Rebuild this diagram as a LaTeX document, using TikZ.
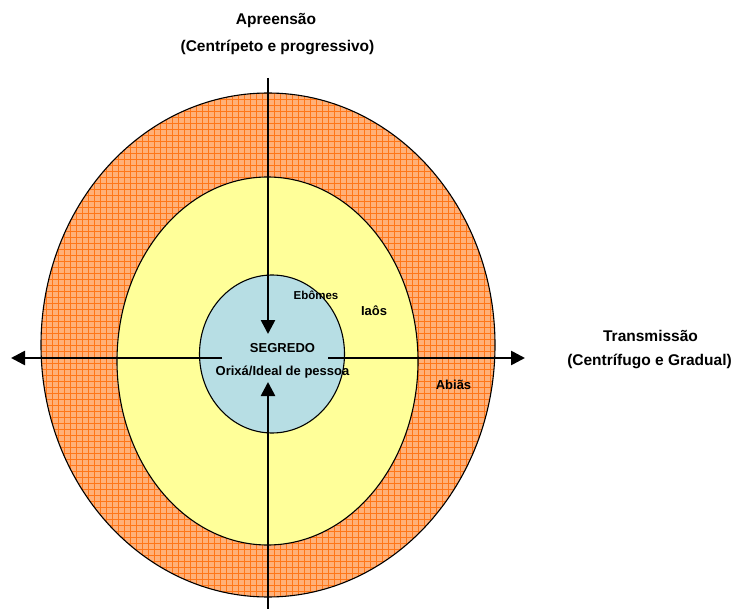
\documentclass[tikz,border=0pt]{standalone}
\usepackage{fontspec}
\setmainfont{Liberation Sans}
\usetikzlibrary{shapes.geometric,arrows.meta,positioning}
\definecolor{ringorange}{RGB}{255,176,120}
\definecolor{gridorange}{RGB}{255,118,24}
\definecolor{ringyellow}{RGB}{255,255,153}
\definecolor{coreblue}{RGB}{183,222,228}

\begin{document}
\begin{tikzpicture}[x=1pt,y=-1pt,
  ring/.style={ellipse,draw,line width=1.1pt,inner sep=0pt},
  axis/.style={line width=2.6pt,-{Triangle[length=14pt,width=14pt]}},
  big/.style={font=\fontsize{15.5}{18}\selectfont\bfseries},
  small/.style={font=\fontsize{13}{15}\selectfont\bfseries}]
\useasboundingbox (0,0) rectangle (735,609);
% rings
\node[ring,fill=ringorange,minimum width=454pt,minimum height=504pt,
  path picture={\foreach \k in {-264,-258,...,264}{
    \draw[gridorange,line width=0.7pt] ([xshift=\k pt]path picture bounding box.north) -- ([xshift=\k pt]path picture bounding box.south);
    \draw[gridorange,line width=0.7pt] ([yshift=\k pt]path picture bounding box.west) -- ([yshift=\k pt]path picture bounding box.east);}}] (abias) at (268,345) {};
\node[ring,fill=ringyellow,minimum width=301pt,minimum height=368pt] (iaos) at (267.5,361) {};
\node[ring,fill=coreblue,minimum width=145pt,minimum height=158pt] (segredo) at (272,354) {};
% axes
\coordinate (topend) at (268,78);
\coordinate (downtip) at (268,334);
\coordinate (bottomend) at (268,609);
\coordinate (uptip) at (268,382);
\coordinate (leftstart) at (222,358);
\coordinate (lefttip) at (11,358);
\coordinate (rightstart) at (328,358);
\coordinate (righttip) at (525,358);
\draw[axis] (topend) -- (downtip);
\draw[axis] (bottomend) -- (uptip);
\draw[axis] (leftstart) -- (lefttip);
\draw[axis] (rightstart) -- (righttip);
% labels
\node[big] (apreensao) at (276,21) {Apreensão};
\node[big] (centripeto) at (277.5,47.5) {(Centrípeto e progressivo)};
\node[big] (transmissao) at (650.5,336) {Transmissão};
\node[big] (centrifugo) at (649.5,361) {(Centrífugo e Gradual)};
\node[small] (segredolbl) at (282.5,348) {SEGREDO};
\node[small] (orixa) at (282.5,372.5) {Orixá/Ideal de pessoa};
\node[font=\fontsize{11.5}{14}\selectfont\bfseries] (ebomes) at (316,295) {Ebômes};
\node[small] (iaoslbl) at (374,311) {Iaôs};
\node[small] (abiaslbl) at (453.5,385) {Abiãs};
\end{tikzpicture}
\end{document}
